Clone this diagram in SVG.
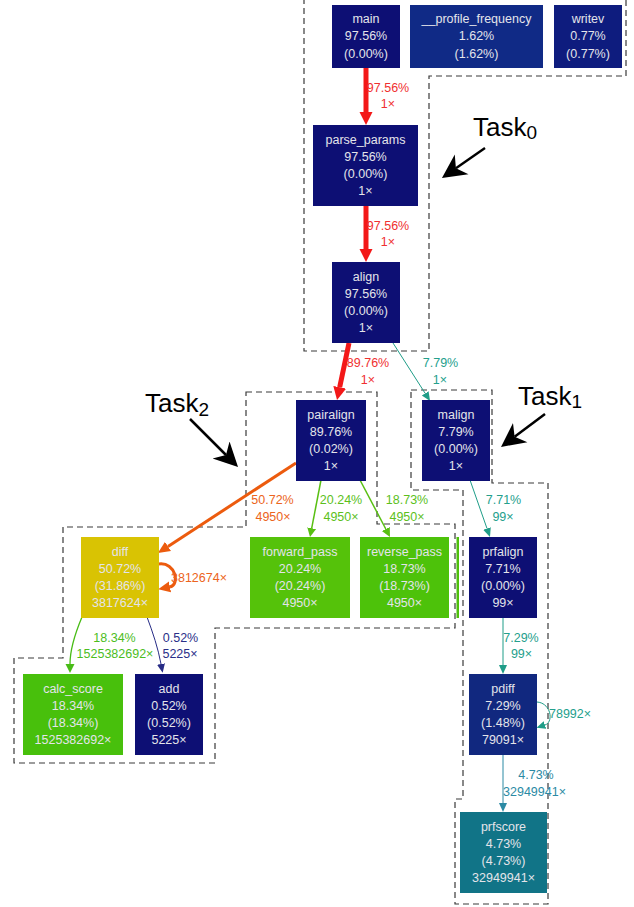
<svg xmlns="http://www.w3.org/2000/svg" width="634" height="907" viewBox="0 0 634 907">
<style>
text{font-family:"Liberation Sans",Arial,sans-serif;}
.nt{font-size:12.5px;fill:#e4e4ea;text-anchor:middle;}
.el{font-size:12.5px;text-anchor:middle;}
.task{font-size:26px;fill:#000;}
.dash{fill:none;stroke:#3a3a3a;stroke-width:1.2;stroke-dasharray:6,4;}
.e{fill:none;}
</style>
<defs>
<marker id="aRed" markerUnits="userSpaceOnUse" viewBox="0 -7 13 14" refX="0" refY="0" markerWidth="13" markerHeight="14" orient="auto"><path d="M0,-6.5 L13,0 L0,6.5 Z" fill="#f31818"/></marker>
<marker id="aOrange" markerUnits="userSpaceOnUse" viewBox="0 -6 12 12" refX="0" refY="0" markerWidth="12" markerHeight="12" orient="auto"><path d="M0,-5.5 L12,0 L0,5.5 Z" fill="#ec5b0e"/></marker>
<marker id="aGreen" markerUnits="userSpaceOnUse" viewBox="0 -5 9 10" refX="0" refY="0" markerWidth="9" markerHeight="10" orient="auto"><path d="M0,-4.5 L9,0 L0,4.5 Z" fill="#58bf12"/></marker>
<marker id="aGreen2" markerUnits="userSpaceOnUse" viewBox="0 -5 9 10" refX="0" refY="0" markerWidth="9" markerHeight="10" orient="auto"><path d="M0,-4.5 L9,0 L0,4.5 Z" fill="#48bc16"/></marker>
<marker id="aNavy" markerUnits="userSpaceOnUse" viewBox="0 -5 9 10" refX="0" refY="0" markerWidth="9" markerHeight="10" orient="auto"><path d="M0,-4 L9,0 L0,4 Z" fill="#272c86"/></marker>
<marker id="aTeal" markerUnits="userSpaceOnUse" viewBox="0 -5 9 10" refX="0" refY="0" markerWidth="9" markerHeight="10" orient="auto"><path d="M0,-4 L9,0 L0,4 Z" fill="#1f9d88"/></marker>
<marker id="aTeal2" markerUnits="userSpaceOnUse" viewBox="0 -5 9 10" refX="0" refY="0" markerWidth="9" markerHeight="10" orient="auto"><path d="M0,-4 L9,0 L0,4 Z" fill="#2b8aa4"/></marker>
<marker id="aTask" markerUnits="userSpaceOnUse" viewBox="0 -13 24 26" refX="7" refY="0" markerWidth="24" markerHeight="26" orient="auto"><path d="M24,0 L0,-12 L7,0 L0,12 Z" fill="#000"/></marker>
</defs>
<rect width="634" height="907" fill="#fff"/>

<g id="clusters">
<path class="dash" d="M304,-2 L304,351 L429,351 L429,76 L626,76 L626,-2"/>
<path class="dash" d="M246,392 L377,392 L377,524 L455,524 L455,628 L215,628 L215,763 L14,763 L14,658 L63,658 L63,527 L246,527 Z"/>
<path class="dash" d="M411,390 L492,390 L492,483 L548,483 L548,904 L455,904 L455,799 L463,799 L463,490 L411,490 Z"/>
</g>

<rect x="456.5" y="537" width="2.5" height="81" fill="#4ec00c"/>

<g id="connectors">
<g id="e_main_parse"><path class="e" d="M366,68 L366,112" stroke="#f31818" stroke-width="5" marker-end="url(#aRed)"/>
<text class="el" x="388" y="92" fill="#f03030">97.56%</text><text class="el" x="388" y="108" fill="#f03030">1×</text></g>
<g id="e_parse_align"><path class="e" d="M366,206 L366,249" stroke="#f31818" stroke-width="5" marker-end="url(#aRed)"/>
<text class="el" x="388" y="229.5" fill="#f03030">97.56%</text><text class="el" x="388" y="246" fill="#f03030">1×</text></g>
<g id="e_align_pairalign"><path class="e" d="M349,343 L339.7,387.3" stroke="#f31818" stroke-width="5" marker-end="url(#aRed)"/>
<text class="el" x="368" y="366.5" fill="#f03030">89.76%</text><text class="el" x="368" y="383.5" fill="#f03030">1×</text></g>
<g id="e_align_malign"><path class="e" d="M393,343 L425.2,393.4" stroke="#1f9d88" stroke-width="1" marker-end="url(#aTeal)"/>
<text class="el" x="440.5" y="366.5" fill="#24a08c">7.79%</text><text class="el" x="440" y="383.5" fill="#24a08c">1×</text></g>
<g id="e_pairalign_diff"><path class="e" d="M296,463 L168,546.4" stroke="#ec5b0e" stroke-width="3" marker-end="url(#aOrange)"/>
<text class="el" x="272.5" y="503.5" fill="#ec6420">50.72%</text><text class="el" x="273" y="520.5" fill="#ec6420">4950×</text></g>
<g id="e_pairalign_forward"><path class="e" d="M321,480 L311.7,528.2" stroke="#58bf12" stroke-width="1.5" marker-end="url(#aGreen)"/>
<text class="el" x="341" y="503.5" fill="#5cbf1c">20.24%</text><text class="el" x="341" y="520.5" fill="#5cbf1c">4950×</text></g>
<g id="e_pairalign_reverse"><path class="e" d="M360,480 L385.8,529" stroke="#58bf12" stroke-width="1.5" marker-end="url(#aGreen)"/>
<text class="el" x="407" y="503.5" fill="#5cbf1c">18.73%</text><text class="el" x="407" y="520.5" fill="#5cbf1c">4950×</text></g>
<g id="e_diff_self"><path class="e" d="M159,564 C176,562 180,585 170,587" stroke="#ec5b0e" stroke-width="3" marker-end="url(#aOrange)"/>
<text class="el" x="171" y="581.5" fill="#ec6420" style="text-anchor:start">3812674×</text></g>
<g id="e_diff_calc"><path class="e" d="M82,617 C74,636 70,650 70,664" stroke="#48bc16" stroke-width="1.3" marker-end="url(#aGreen2)"/>
<text class="el" x="114.5" y="641.5" fill="#4cbd1e">18.34%</text><text class="el" x="115" y="657.5" fill="#4cbd1e">1525382692×</text></g>
<g id="e_diff_add"><path class="e" d="M147,617 C153,633 158,648 161,664" stroke="#272c86" stroke-width="1" marker-end="url(#aNavy)"/>
<text class="el" x="180.5" y="641.5" fill="#2a2f88">0.52%</text><text class="el" x="180" y="657.5" fill="#2a2f88">5225×</text></g>
<g id="e_malign_prfalign"><path class="e" d="M470,480 L487,528.5" stroke="#1f9d88" stroke-width="1" marker-end="url(#aTeal)"/>
<text class="el" x="503.5" y="503.5" fill="#24a08c">7.71%</text><text class="el" x="503" y="521" fill="#24a08c">99×</text></g>
<g id="e_prfalign_pdiff"><path class="e" d="M503,618 L503,665" stroke="#1f9d88" stroke-width="1" marker-end="url(#aTeal)"/>
<text class="el" x="521" y="641.5" fill="#24a08c">7.29%</text><text class="el" x="521.5" y="657.5" fill="#24a08c">99×</text></g>
<g id="e_pdiff_self"><path class="e" d="M537,702 C551,703 554,722 545,725" stroke="#1f9d88" stroke-width="1" marker-end="url(#aTeal)"/>
<text class="el" x="549" y="717.5" fill="#24a08c" style="text-anchor:start">78992×</text></g>
<g id="e_pdiff_prfscore"><path class="e" d="M503,755 L503,803" stroke="#2b8aa4" stroke-width="1" marker-end="url(#aTeal2)"/>
<text class="el" x="536" y="778.5" fill="#2b8aa4">4.73%</text><text class="el" x="534.5" y="795.5" fill="#2b8aa4">32949941×</text></g>
</g>

<g id="main"><rect x="332" y="5" width="68" height="63" fill="#0d0f74"/>
<text class="nt" x="366" y="22.5">main</text><text class="nt" x="366" y="40">97.56%</text><text class="nt" x="366" y="57.5">(0.00%)</text></g>
<g id="profile_frequency"><rect x="410" y="5" width="133" height="63" fill="#102a86"/>
<text class="nt" x="476.5" y="22.5">__profile_frequency</text><text class="nt" x="476.5" y="40">1.62%</text><text class="nt" x="476.5" y="57.5">(1.62%)</text></g>
<g id="writev"><rect x="554" y="5" width="68" height="63" fill="#0e1c7e"/>
<text class="nt" x="588" y="22.5">writev</text><text class="nt" x="588" y="40">0.77%</text><text class="nt" x="588" y="57.5">(0.77%)</text></g>
<g id="parse_params"><rect x="313" y="125" width="105" height="81" fill="#0d0f74"/>
<text class="nt" x="365.5" y="143.5">parse_params</text><text class="nt" x="365.5" y="160.5">97.56%</text><text class="nt" x="365.5" y="177.5">(0.00%)</text><text class="nt" x="365.5" y="194.5">1×</text></g>
<g id="align"><rect x="332" y="262" width="68" height="81" fill="#0d0f74"/>
<text class="nt" x="366" y="280.5">align</text><text class="nt" x="366" y="297.5">97.56%</text><text class="nt" x="366" y="314.5">(0.00%)</text><text class="nt" x="366" y="331.5">1×</text></g>
<g id="pairalign"><rect x="296" y="400" width="70" height="81" fill="#0d0f74"/>
<text class="nt" x="331" y="418.5">pairalign</text><text class="nt" x="331" y="435.5">89.76%</text><text class="nt" x="331" y="452.5">(0.02%)</text><text class="nt" x="331" y="469.5">1×</text></g>
<g id="malign"><rect x="422" y="400" width="68" height="81" fill="#0d0f74"/>
<text class="nt" x="456" y="418.5">malign</text><text class="nt" x="456" y="435.5">7.79%</text><text class="nt" x="456" y="452.5">(0.00%)</text><text class="nt" x="456" y="469.5">1×</text></g>
<g id="diff"><rect x="81" y="537" width="78" height="81" fill="#d9c303"/>
<text class="nt" x="120" y="555.5">diff</text><text class="nt" x="120" y="572.5">50.72%</text><text class="nt" x="120" y="589.5">(31.86%)</text><text class="nt" x="120" y="606.5">3817624×</text></g>
<g id="forward_pass"><rect x="250" y="537" width="100" height="81" fill="#55c20a"/>
<text class="nt" x="300" y="555.5">forward_pass</text><text class="nt" x="300" y="572.5">20.24%</text><text class="nt" x="300" y="589.5">(20.24%)</text><text class="nt" x="300" y="606.5">4950×</text></g>
<g id="reverse_pass"><rect x="360" y="537" width="89" height="81" fill="#4dc20a"/>
<text class="nt" x="404.5" y="555.5">reverse_pass</text><text class="nt" x="404.5" y="572.5">18.73%</text><text class="nt" x="404.5" y="589.5">(18.73%)</text><text class="nt" x="404.5" y="606.5">4950×</text></g>
<g id="prfalign"><rect x="469" y="537" width="68" height="81" fill="#0d0f74"/>
<text class="nt" x="503" y="555.5">prfalign</text><text class="nt" x="503" y="572.5">7.71%</text><text class="nt" x="503" y="589.5">(0.00%)</text><text class="nt" x="503" y="606.5">99×</text></g>
<g id="calc_score"><rect x="23" y="674" width="100" height="81" fill="#48c00c"/>
<text class="nt" x="73" y="692.5">calc_score</text><text class="nt" x="73" y="709.5">18.34%</text><text class="nt" x="73" y="726.5">(18.34%)</text><text class="nt" x="73" y="743.5">1525382692×</text></g>
<g id="add"><rect x="135" y="674" width="68" height="81" fill="#0d0f74"/>
<text class="nt" x="169" y="692.5">add</text><text class="nt" x="169" y="709.5">0.52%</text><text class="nt" x="169" y="726.5">(0.52%)</text><text class="nt" x="169" y="743.5">5225×</text></g>
<g id="pdiff"><rect x="469" y="674" width="68" height="81" fill="#11287f"/>
<text class="nt" x="503" y="692.5">pdiff</text><text class="nt" x="503" y="709.5">7.29%</text><text class="nt" x="503" y="726.5">(1.48%)</text><text class="nt" x="503" y="743.5">79091×</text></g>
<g id="prfscore"><rect x="460" y="812" width="87" height="81" fill="#117487"/>
<text class="nt" x="503.5" y="830.5">prfscore</text><text class="nt" x="503.5" y="847.5">4.73%</text><text class="nt" x="503.5" y="864.5">(4.73%)</text><text class="nt" x="503.5" y="881.5">32949941×</text></g>

<g id="task0"><text class="task" x="473" y="136">Task<tspan font-size="19" dy="3">0</tspan></text>
<path d="M485,148 L455.9,168.3" stroke="#000" stroke-width="2.5" fill="none" marker-end="url(#aTask)"/></g>
<g id="task1"><text class="task" x="518" y="405">Task<tspan font-size="19" dy="3">1</tspan></text>
<path d="M545,414 L514.6,436.8" stroke="#000" stroke-width="2.5" fill="none" marker-end="url(#aTask)"/></g>
<g id="task2"><text class="task" x="145" y="412">Task<tspan font-size="19" dy="4">2</tspan></text>
<path d="M190,419 L226,455" stroke="#000" stroke-width="2.5" fill="none" marker-end="url(#aTask)"/></g>
</svg>
